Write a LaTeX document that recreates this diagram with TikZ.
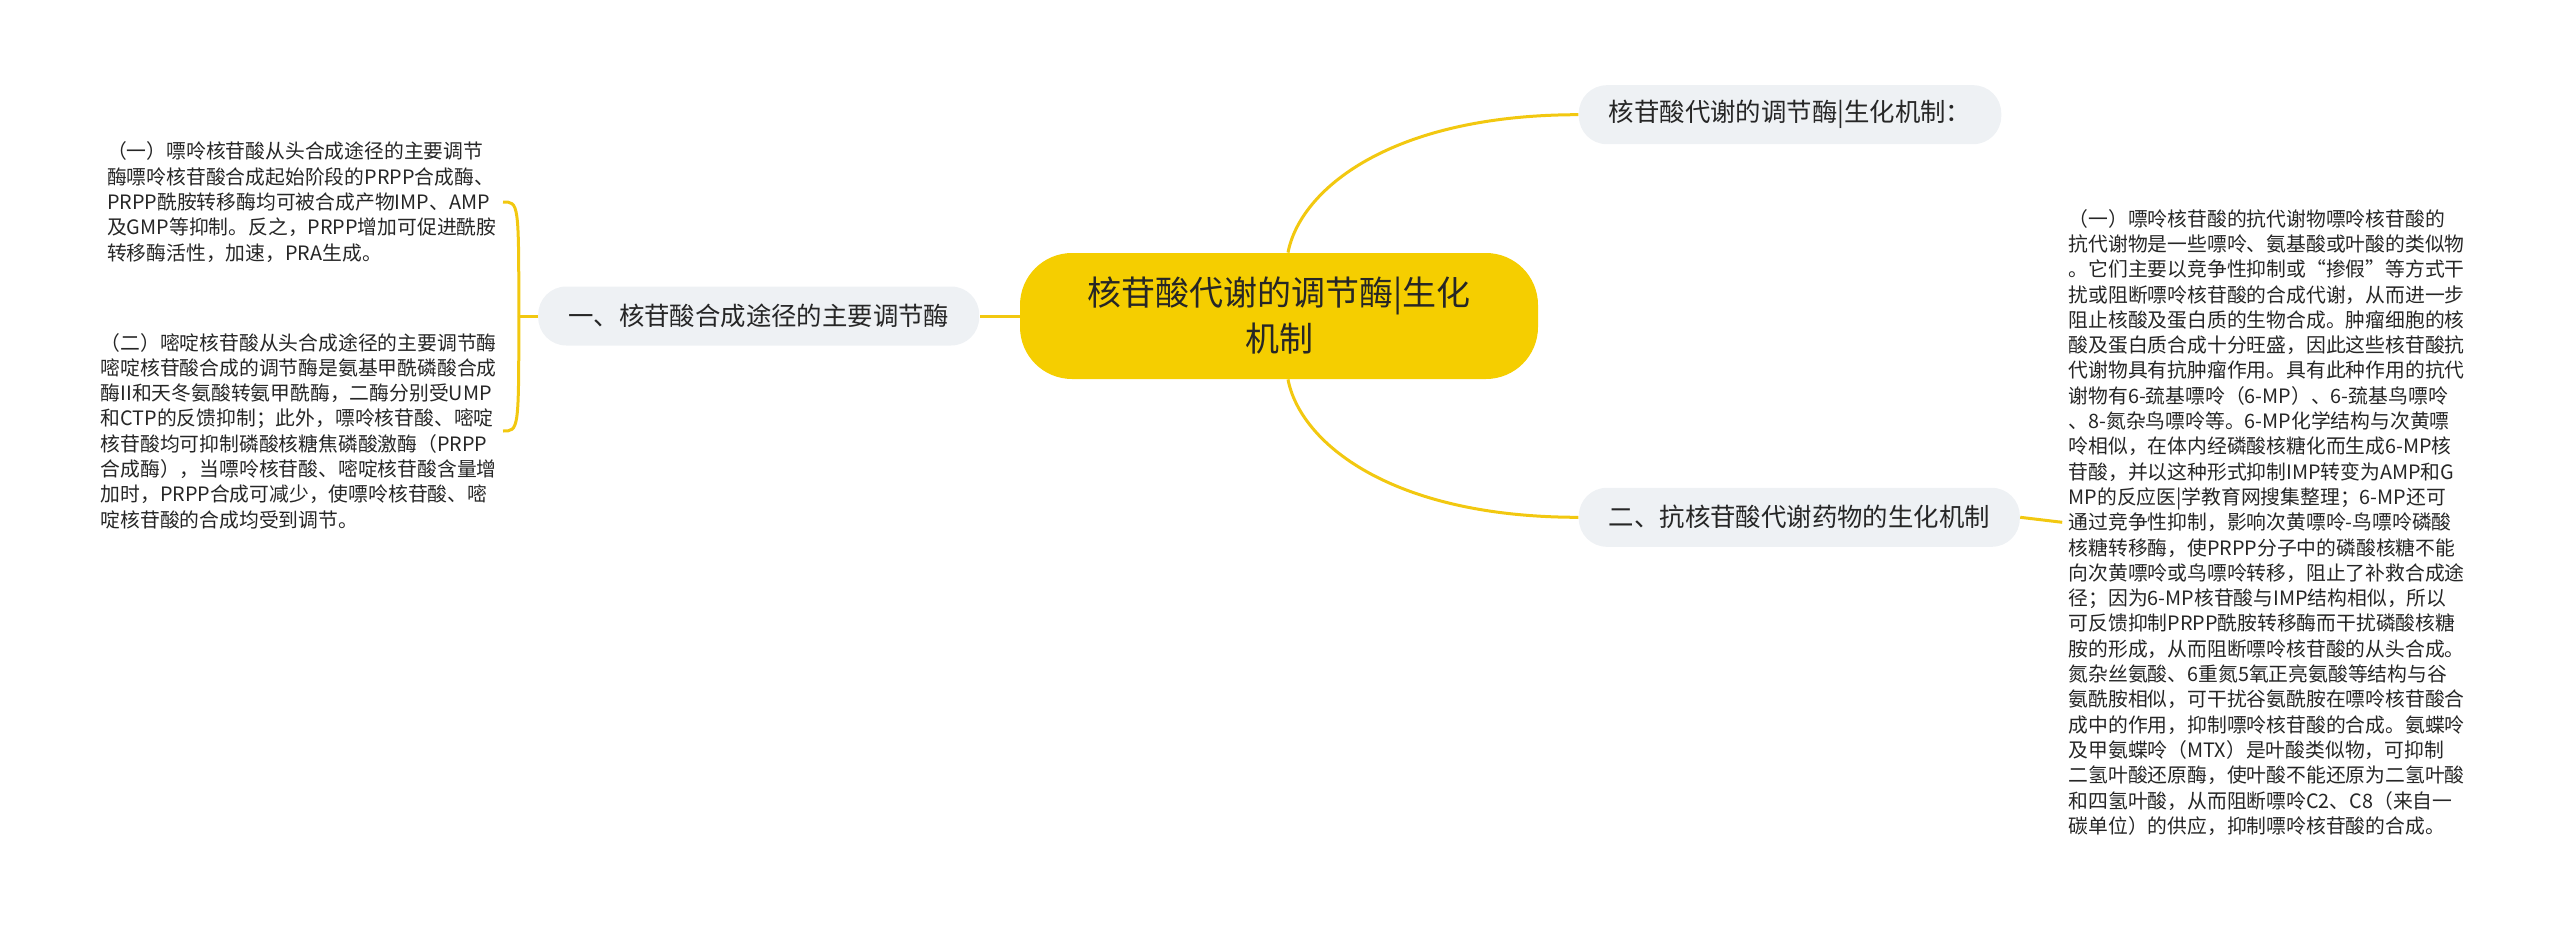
\documentclass[tikz,border=0pt]{standalone}
\usepackage{fontspec}
\setmainfont{Noto Sans CJK SC}
\usetikzlibrary{positioning}

\definecolor{rootyellow}{RGB}{245,206,0}
\definecolor{linkyellow}{RGB}{242,200,16}
\definecolor{topicgray}{RGB}{238,241,244}
\definecolor{inkgray}{RGB}{38,38,38}

\begin{document}
\begin{tikzpicture}[
    x=0.5pt, y=-0.5pt,
    node distance=20pt,
    root/.style={rectangle, rounded corners=26pt, fill=rootyellow, text=inkgray, align=center, minimum width=259pt, minimum height=63pt, font=\fontsize{17}{23}\selectfont},
    topic/.style={rectangle, rounded corners=14pt, fill=topicgray, text=inkgray, inner xsep=15pt, minimum height=29.5pt, font=\fontsize{12.7}{15}\selectfont},
    note/.style={align=left, text=inkgray, inner xsep=3pt, inner ysep=0pt, font=\fontsize{9.9}{12.65}\selectfont},
    link/.style={draw=linkyellow, line width=1.5pt}
]
    \useasboundingbox (0,0) rectangle (2560,931);

    \node[root] (root) at (1279,316) {核苷酸代谢的调节酶|生化\\机制};

    \node[topic, above right=54pt and 20pt of root] (tit) {核苷酸代谢的调节酶|生化机制：};
    \node[topic, left=20pt of root] (syn) {一、核苷酸合成途径的主要调节酶};
    \node[topic, below right=54pt and 20pt of root] (drug) {二、抗核苷酸代谢药物的生化机制};

    % left branch: two notes behind a bracket
    \coordinate[left=9.5pt of syn] (brk);
    \node[note, anchor=east] (pur) at (503,202) {%
        （一）嘌呤核苷酸从头合成途径的主要调节\\
        酶嘌呤核苷酸合成起始阶段的PRPP合成酶、\\
        PRPP酰胺转移酶均可被合成产物IMP、AMP\\
        及GMP等抑制。反之，PRPP增加可促进酰胺\\
        转移酶活性，加速，PRA生成。};
    \node[note, anchor=east] (pyr) at (503,431) {%
        （二）嘧啶核苷酸从头合成途径的主要调节酶\\
        嘧啶核苷酸合成的调节酶是氨基甲酰磷酸合成\\
        酶II和天冬氨酸转氨甲酰酶，二酶分别受UMP\\
        和CTP的反馈抑制；此外，嘌呤核苷酸、嘧啶\\
        核苷酸均可抑制磷酸核糖焦磷酸激酶（PRPP\\
        合成酶），当嘌呤核苷酸、嘧啶核苷酸含量增\\
        加时，PRPP合成可减少，使嘌呤核苷酸、嘧\\
        啶核苷酸的合成均受到调节。};

    % right branch: one long note
    \node[note, right=21pt of drug, yshift=-2.5pt] (anti) {%
        （一）嘌呤核苷酸的抗代谢物嘌呤核苷酸的\\
        抗代谢物是一些嘌呤、氨基酸或叶酸的类似物\\
        。它们主要以竞争性抑制或“掺假”等方式干\\
        扰或阻断嘌呤核苷酸的合成代谢，从而进一步\\
        阻止核酸及蛋白质的生物合成。肿瘤细胞的核\\
        酸及蛋白质合成十分旺盛，因此这些核苷酸抗\\
        代谢物具有抗肿瘤作用。具有此种作用的抗代\\
        谢物有6-巯基嘌呤（6-MP）、6-巯基鸟嘌呤\\
        、8-氮杂鸟嘌呤等。6-MP化学结构与次黄嘌\\
        呤相似，在体内经磷酸核糖化而生成6-MP核\\
        苷酸，并以这种形式抑制IMP转变为AMP和G\\
        MP的反应医|学教育网搜集整理；6-MP还可\\
        通过竞争性抑制，影响次黄嘌呤-鸟嘌呤磷酸\\
        核糖转移酶，使PRPP分子中的磷酸核糖不能\\
        向次黄嘌呤或鸟嘌呤转移，阻止了补救合成途\\
        径；因为6-MP核苷酸与IMP结构相似，所以\\
        可反馈抑制PRPP酰胺转移酶而干扰磷酸核糖\\
        胺的形成，从而阻断嘌呤核苷酸的从头合成。\\
        氮杂丝氨酸、6重氮5氧正亮氨酸等结构与谷\\
        氨酰胺相似，可干扰谷氨酰胺在嘌呤核苷酸合\\
        成中的作用，抑制嘌呤核苷酸的合成。氨蝶呤\\
        及甲氨蝶呤（MTX）是叶酸类似物，可抑制\\
        二氢叶酸还原酶，使叶酸不能还原为二氢叶酸\\
        和四氢叶酸，从而阻断嘌呤C2、C8（来自一\\
        碳单位）的供应，抑制嘌呤核苷酸的合成。};

    \draw[link] ([xshift=4.5pt]root.north) .. controls +(12,-63) and +(-188,0) .. (tit.west);
    \draw[link] ([xshift=4.5pt]root.south) .. controls +(12,63) and +(-188,0) .. (drug.west);
    \draw[link] (root.west) -- (syn.east);

    \draw[link] (syn.west) -- (brk);
    \draw[link] (brk) .. controls (brk |- pur.east) .. (pur.east);
    \draw[link] (brk) .. controls (brk |- pyr.east) .. (pyr.east);

    \draw[link] (drug.east) -- (anti.west);
\end{tikzpicture}
\end{document}
